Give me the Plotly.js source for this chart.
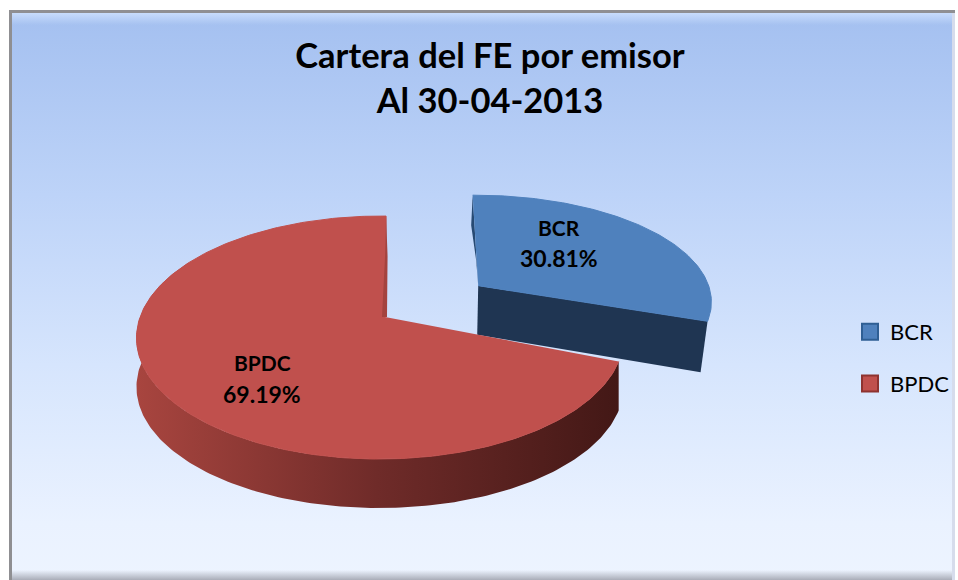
<!DOCTYPE html>
<html>
<head>
<meta charset="utf-8">
<script src="https://cdn.plot.ly/plotly-3.0.1.min.js"></script>
<style>
html,body{margin:0;padding:0;background:#fff;width:958px;height:580px;overflow:hidden}
#frame{position:absolute;left:9px;top:10px;width:946px;height:570px;box-sizing:border-box;
 border-left:3px solid #8f8f92;border-top:3px solid #8f8f92;
 background:linear-gradient(to bottom,#a4c0f0 0%,#bdd3f8 32%,#d6e5fd 62%,#eaf2ff 90%,#edf4ff 100%);}
#frame:before{content:"";position:absolute;left:0;right:0;top:0;height:12px;background:linear-gradient(to bottom,#c8dcfb,rgba(200,220,251,0));}
#frame:after{content:"";position:absolute;left:0;right:0;bottom:0;height:10px;background:linear-gradient(to bottom,rgba(190,195,210,0),#a9adb8);}
#side{position:absolute;left:952px;top:13px;width:3px;height:567px;background:#d6dcec}
#chart{position:absolute;left:0;top:0;width:958px;height:580px}
</style>
</head>
<body>
<div id="frame"></div><div id="side"></div>
<div id="chart"></div>
<script>
// data
var categories = ['BCR', 'BPDC'];
var percentages = [30.81, 69.19];
var topColors = ['#4f81bd', '#c0504d'];
var edgeColors = ['#2f5f94', '#8e3330'];
var wallColors = ['#1f3552', '#4f1f1c'];
var titleLines = ['Cartera del FE por emisor', 'Al 30-04-2013'];

// view: projection of the pie plane onto the chart
var CX = 385, CY = 317, RX = 240, RY = 118, PV = 0.169, PU = 0.02, DEPTH = 49, START = 1;
var explode = [{u: 0.41, v: 0.28, su: 1.045, sv: 0.98, k: 0.07, rot: 1}, {u: 0, v: 0, su: 1, sv: 1, k: 0, rot: -0.7}];

function project(u, v) {
  var w = 1 + PV * v + PU * u;
  return [CX + RX * u / w, CY - RY * v / w];
}
function rimPoint(i, deg) {
  var t = (deg + explode[i].rot) * Math.PI / 180, e = explode[i];
  return project(e.u + e.su * Math.sin(t), e.v + e.sv * Math.cos(t) + e.k * Math.sin(t));
}
function centre(i) { return project(explode[i].u, explode[i].v); }

var bounds = [], acc = START;
percentages.forEach(function (p) { bounds.push([acc, acc + p * 3.6]); acc += p * 3.6; });

function arc(i, a, b) {
  var pts = [], n = Math.ceil(Math.abs(b - a));
  for (var k = 0; k <= n; k++) pts.push(rimPoint(i, a + (b - a) * k / n));
  return pts;
}
function down(pts) { return pts.map(function (q) { return [q[0], q[1] + DEPTH]; }); }
function poly(pts, extra) {
  var t = {
    type: 'scatter', mode: 'lines', fill: 'toself',
    x: pts.map(function (q) { return q[0]; }),
    y: pts.map(function (q) { return q[1]; }),
    line: {width: 0}, showlegend: false, hoverinfo: 'skip'
  };
  for (var k in extra) t[k] = extra[k];
  return t;
}

var traces = [];
// BCR slice: cut wall, left sliver, then top
var b0 = bounds[0][0], b1 = bounds[0][1];
var bStart = rimPoint(0, b0), bEnd = rimPoint(0, b1), bC = centre(0);
traces.push(poly([bC, bEnd, [bEnd[0] - 7, bEnd[1] + DEPTH + 2], [bC[0] - 1, bC[1] + DEPTH]], {fillcolor: wallColors[0]}));
traces.push(poly([bStart, [bStart[0] - 1.5, bStart[1] + 30], [bC[0] - 2, bC[1] - 25], bC], {fillcolor: '#274a73'}));
traces.push(poly(arc(0, b0, b1).concat([bC]), {fillcolor: topColors[0], line: {width: 1, color: topColors[0]}, name: categories[0]}));

// BPDC slice: rim with horizontal shading, top, inner sliver
var r0 = bounds[1][0], r1 = bounds[1][1];
var rRim = arc(1, r0, 300);
traces.push(poly(rRim.concat(down(rRim).reverse()), {
  fillcolor: '#7a302c',
  fillgradient: {type: 'horizontal', colorscale: [[0, '#a8453f'], [0.5, '#6f2b29'], [1, '#431816']]}
}));
var rC = centre(1), rEnd = rimPoint(1, r1);
traces.push(poly(arc(1, r0, r1).concat([rC]), {fillcolor: topColors[1], line: {width: 1, color: topColors[1]}, name: categories[1]}));
traces.push(poly([rEnd, [rEnd[0] + 1.5, rEnd[1] + 40], [rC[0] + 2, rC[1]], [rC[0] - 3, rC[1]], [rEnd[0] - 1, rEnd[1] + 40]], {fillcolor: '#a4433f'}));

// legend entries
categories.forEach(function (c, i) {
  traces.push({
    type: 'scatter', mode: 'markers', name: c, x: [null], y: [null], legendgroup: c,
    marker: {symbol: 'square', size: 16, color: topColors[i], line: {width: 2, color: edgeColors[i]}},
    hoverinfo: 'skip'
  });
});

var labelAt = [[559, 227, 258], [262, 362, 394]];
var annotations = [];
categories.forEach(function (c, i) {
  annotations.push({x: labelAt[i][0], y: labelAt[i][1], text: '<b>' + c + '</b>', showarrow: false, xanchor: 'center', yanchor: 'middle',
    font: {family: 'Lato, sans-serif', size: 21, color: '#000'}});
  annotations.push({x: labelAt[i][0], y: labelAt[i][2], text: '<b>' + percentages[i].toFixed(2) + '%</b>', showarrow: false, xanchor: 'center', yanchor: 'middle',
    font: {family: 'Lato, sans-serif', size: 23, color: '#000'}});
});

var layout = {
  width: 958, height: 580,
  margin: {l: 0, r: 0, t: 0, b: 0},
  paper_bgcolor: 'rgba(0,0,0,0)', plot_bgcolor: 'rgba(0,0,0,0)',
  title: {text: titleLines.join('<br>'), x: 490 / 958, xanchor: 'center', y: 1 - 68 / 580, yanchor: 'top',
    font: {family: 'Lato, sans-serif', size: 34.5, color: '#000', weight: 700}},
  xaxis: {range: [0, 958], visible: false, fixedrange: true},
  yaxis: {range: [580, 0], visible: false, fixedrange: true},
  legend: {x: 850 / 958, y: 1 - 311 / 580, xanchor: 'left', yanchor: 'top', bgcolor: 'rgba(0,0,0,0)',
    font: {family: 'Lato, sans-serif', size: 22, color: '#000'}, itemwidth: 30, tracegroupgap: 20},
  annotations: annotations,
  showlegend: true
};
Plotly.newPlot('chart', traces, layout, {displayModeBar: false, staticPlot: true});
</script>
</body>
</html>
